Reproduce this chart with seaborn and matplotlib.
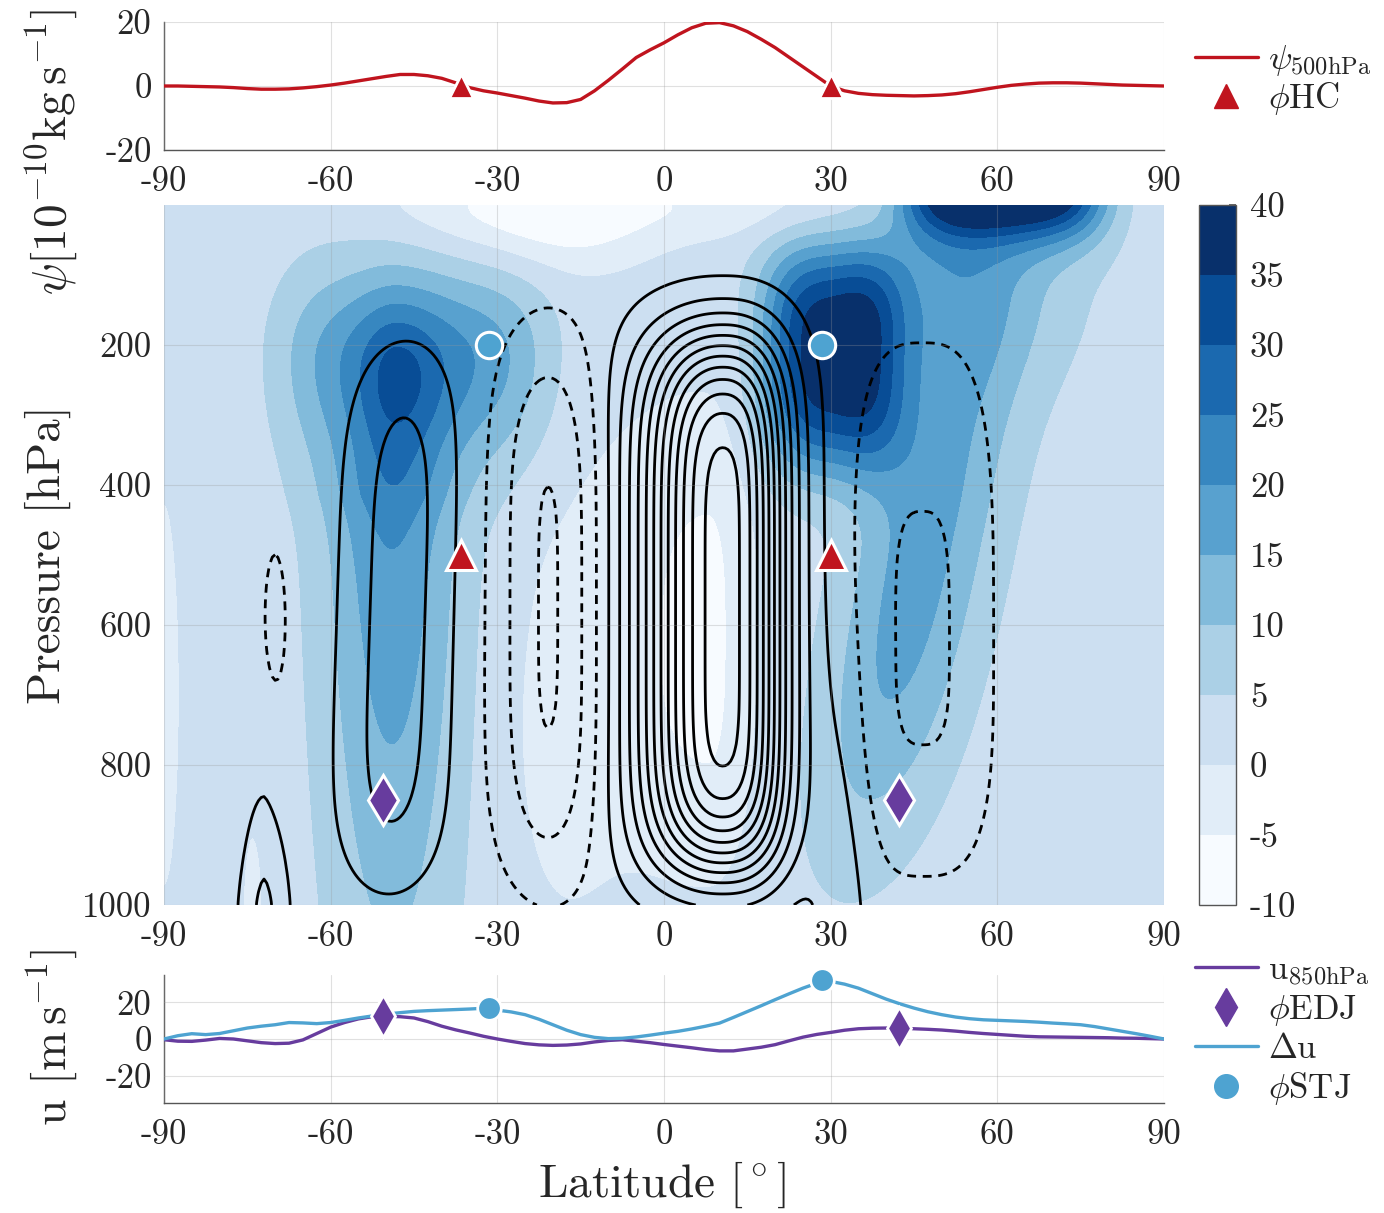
import numpy as np
import pandas as pd
import matplotlib
matplotlib.use("Agg")
import matplotlib.pyplot as plt
from matplotlib.colors import ListedColormap, BoundaryNorm
from matplotlib.lines import Line2D
import seaborn as sns

# ---------------------------------------------------------------- line data
lat_line = [-90 + 2.5 * i for i in range(73)]

psi_500 = [0, 0, -0.1, -0.2, -0.3, -0.5, -0.8, -1.0, -1.0, -0.9, -0.6, -0.2,
           0.3, 0.9, 1.6, 2.3, 3.0, 3.6, 3.6, 3.2, 2.4, 1.0, -0.5, -1.5,
           -2.2, -3.0, -3.8, -4.7, -5.3, -5.2, -4.2, -1.5, 1.8, 5.3, 8.9, 11.3,
           13.5, 16.0, 18.2, 19.6, 19.8, 18.8, 17.0, 14.6, 12.0, 9.0, 6.0, 3.0,
           0.0, -1.5, -2.3, -2.7, -2.9, -3.0, -3.1, -3.0, -2.8, -2.4, -1.8, -1.1,
           -0.4, 0.2, 0.6, 0.9, 1.0, 1.0, 0.9, 0.7, 0.5, 0.3, 0.2, 0.1, 0]

u_850 = [-0.4, -1.2, -1.3, -0.6, 0.3, 0.0, -1.0, -2.0, -2.5, -2.3, -0.5, 3.0,
         6.5, 9.0, 11.0, 12.2, 12.4, 12.2, 11.5, 9.5, 7.0, 5.0, 3.3, 1.5,
         0.0, -1.3, -2.5, -3.2, -3.5, -3.3, -2.7, -1.6, -0.8, -0.4, -1.2, -2.0,
         -3.0, -3.9, -4.8, -5.8, -6.5, -6.5, -5.5, -4.5, -3.1, -1.0, 1.0, 2.5,
         3.6, 4.8, 5.6, 5.9, 6.0, 6.0, 5.6, 5.3, 4.9, 4.3, 3.6, 3.0,
         2.5, 2.0, 1.5, 1.2, 1.1, 1.0, 0.9, 0.8, 0.7, 0.5, 0.4, 0.2, 0]

delta_u = [0, 1.8, 2.9, 2.4, 3.0, 4.5, 6.0, 7.0, 7.8, 9.0, 8.8, 8.4,
           9.0, 10.2, 11.5, 12.6, 13.6, 14.4, 15.1, 15.5, 15.8, 16.1, 16.4, 16.8,
           15.8, 14.8, 13.3, 10.8, 7.8, 4.8, 2.4, 0.9, 0.2, 0.4, 1.1, 2.1,
           3.2, 4.2, 5.5, 7.0, 8.7, 11.8, 15.0, 18.2, 21.5, 24.7, 27.8, 30.5,
           31.5, 30.0, 27.8, 24.8, 21.8, 19.2, 16.9, 14.9, 13.3, 12.0, 11.1, 10.5,
           10.2, 9.9, 9.6, 9.2, 8.7, 8.3, 7.8, 6.8, 5.5, 4.2, 2.9, 1.5, 0]

# jet / cell-edge latitudes
hc_lat = [-36.5, 30.0]
hc_val = [0.0, 0.0]
hc_p = [500, 500]
edj_lat = [-50.5, 42.3]
edj_val = [12.4, 6.0]
edj_p = [850, 850]
stj_lat = [-31.5, 28.5]
stj_val = [16.9, 32.0]
stj_p = [200, 200]

# ------------------------------------------- zonal-mean field features
# streamfunction cells (10^10 kg/s): centre, half-widths, shape exponents, peak
psi_lat0 = [10.5, -20.5, -48.0, 46.5, -70.0, -72.0, 32.0]
psi_p0 = [580, 575, 600, 625, 600, 1000, 1000]
psi_w_s = [14.0, 9.7, 9.3, 12.2, 3.5, 4.0, 5.0]
psi_w_n = [11.5, 9.7, 9.3, 12.2, 3.5, 4.0, 5.0]
psi_w_up = [395, 380, 380, 410, 180, 140, 300]
psi_w_dn = [375, 380, 360, 320, 180, 140, 300]
psi_n_s = [2.1, 2.0, 2.0, 3.0, 2.0, 1.6, 2.0]
psi_n_n = [2.4, 2.0, 2.0, 3.0, 2.0, 1.6, 2.0]
psi_n_up = [6.0, 4.2, 5.0, 3.5, 2.0, 1.3, 2.0]
psi_n_dn = [6.0, 4.2, 5.0, 3.5, 2.0, 1.3, 2.0]
psi_amp = [24.0, -5.3, 4.0, -3.2, -1.4, 3.6, 2.0]
psi_tilt = [0, 0, -0.4, 0, 0, 0, 0]

# zonal wind features (m/s) on a weak westerly background
u_background = 2.5
u_lat0 = [-48, -45, -49, 31, 47, 61, 50, 8, -5, -18, -18, -90, -74]
u_p0 = [250, 220, 420, 210, 450, -20, 110, 620, 0, 30, 750, 700, 1000]
u_w_s = [7, 23, 12, 13, 12, 18, 14, 20, 45, 22, 10, 4, 2.5]
u_w_n = [9, 23, 12, 12, 13, 18, 22, 8, 35, 16, 10, 4, 2.5]
u_w_up = [130, 130, 120, 150, 400, 70, 90, 330, 50, 70, 300, 400, 150]
u_w_dn = [120, 150, 700, 170, 450, 70, 150, 330, 50, 70, 300, 400, 150]
u_n_s = [2, 4, 2, 3, 2, 4, 2, 2, 4, 2, 2, 2, 2]
u_n_n = [2, 4, 2, 3, 2, 4, 2, 2, 4, 2, 2, 2, 2]
u_n_up = [2, 2, 1.7, 3, 2, 2, 2, 3, 2, 2, 2, 2, 2]
u_n_dn = [2, 2, 1.7, 3, 3, 2, 2, 3, 2, 2, 2, 2, 2]
u_amp = [11, 17, 17, 36, 15, 42, 9, -8.8, -6, -8, -4, -4, -4]
u_tilt = [0, 0, 0, 0, -2.5, 0, 0, 0, 0, 0, 0, 0, 0]

u_levels = list(range(-10, 41, 5))
psi_levels = [-5, -3, -1] + list(range(1, 24, 2))
lat_ticks = [-90, -60, -30, 0, 30, 60, 90]
p_ticks = [200, 400, 600, 800, 1000]

# ---------------------------------------------------------------- style
RED = "#c0141e"
PURPLE = "#673c9e"
LBLUE = "#4ea3d1"
AXC = "#262626"

sns.set_theme(style="white")
plt.rcParams.update({
    "font.family": ["cmr10", "DejaVu Serif"],
    "mathtext.fontset": "cm",
    "axes.unicode_minus": False,
    "axes.formatter.use_mathtext": True,
    "text.color": AXC,
    "axes.edgecolor": AXC,
    "xtick.color": AXC,
    "ytick.color": AXC,
})
FS_TICK = 25
FS_LAB = 34


def feature_field(lat, p, table, base=0.0):
    LAT, P = np.meshgrid(lat, p)
    out = np.full(LAT.shape, base, dtype=float)
    for r in table.itertuples():
        c = r.lat0 + r.tilt * (P - r.p0) / 100.0
        dx = LAT - c
        dp = P - r.p0
        wl = np.where(dx < 0, r.w_s, r.w_n)
        nl = np.where(dx < 0, r.n_s, r.n_n)
        wp = np.where(dp < 0, r.w_up, r.w_dn)
        npw = np.where(dp < 0, r.n_up, r.n_dn)
        out += r.amp * np.exp(-np.abs(dx / wl) ** nl - np.abs(dp / wp) ** npw)
    return out


psi_tab = pd.DataFrame(dict(lat0=psi_lat0, p0=psi_p0, w_s=psi_w_s, w_n=psi_w_n,
                            w_up=psi_w_up, w_dn=psi_w_dn, n_s=psi_n_s,
                            n_n=psi_n_n, n_up=psi_n_up, n_dn=psi_n_dn,
                            amp=psi_amp, tilt=psi_tilt))
u_tab = pd.DataFrame(dict(lat0=u_lat0, p0=u_p0, w_s=u_w_s, w_n=u_w_n,
                          w_up=u_w_up, w_dn=u_w_dn, n_s=u_n_s, n_n=u_n_n,
                          n_up=u_n_up, n_dn=u_n_dn, amp=u_amp, tilt=u_tilt))

grid_lat = np.linspace(-90, 90, 361)
grid_p = np.linspace(0, 1000, 201)
psi_field = feature_field(grid_lat, grid_p, psi_tab)
u_field = np.clip(feature_field(grid_lat, grid_p, u_tab, u_background), -9.99, 39.99)

top_df = pd.DataFrame({"lat": lat_line, "psi": psi_500})
bot_df = pd.DataFrame({"lat": lat_line * 2,
                       "val": u_850 + delta_u,
                       "series": ["u850"] * len(u_850) + ["du"] * len(delta_u)})

W, H = 1384, 1213
fig = plt.figure(figsize=(W / 100, H / 100), dpi=100)


def rect(x0, y0, x1, y1):
    return [x0 / W, 1 - y1 / H, (x1 - x0) / W, (y1 - y0) / H]


ax_top = fig.add_axes(rect(164, 22, 1164, 150))
ax_main = fig.add_axes(rect(164, 205, 1164, 905))
ax_cb = fig.add_axes(rect(1199, 205, 1236, 905))
ax_bot = fig.add_axes(rect(164, 975, 1164, 1103))


def style_axis(ax):
    for s in ["top", "right"]:
        ax.spines[s].set_visible(False)
    for s in ["left", "bottom"]:
        ax.spines[s].set_color("#555555")
        ax.spines[s].set_linewidth(1.0)
    ax.tick_params(direction="in", length=7, width=1.0, labelsize=FS_TICK,
                   colors="#555555", labelcolor=AXC)
    ax.tick_params(axis="x", pad=12)
    ax.tick_params(axis="y", pad=9)
    ax.set_xlim(-90, 90)
    ax.set_xticks(lat_ticks)
    ax.set_xticklabels([str(t) for t in lat_ticks])
    ax.grid(True, color="#9a9a9a", alpha=0.3, lw=0.8)
    ax.set_axisbelow(False)
    ax.set_xlabel("")
    ax.set_ylabel("")


# ---------------------------------------------------------------- top panel
sns.lineplot(data=top_df, x="lat", y="psi", ax=ax_top, color=RED, lw=2.4,
             legend=False, zorder=3)
ax_top.plot(hc_lat, hc_val, ls="none", marker="^", ms=17, mfc=RED,
            mec="white", mew=2, zorder=4, clip_on=False)
ax_top.set_ylim(-20, 20)
ax_top.set_yticks([-20, 0, 20])
ax_top.set_yticklabels(["-20", "0", "20"])
style_axis(ax_top)

# ---------------------------------------------------------------- main panel
cmap = ListedColormap(plt.get_cmap("Blues")(np.linspace(0, 1, len(u_levels) - 1)))
norm = BoundaryNorm(u_levels, cmap.N)
cf = ax_main.contourf(grid_lat, grid_p, u_field, levels=u_levels, cmap=cmap,
                      norm=norm, zorder=0)
ax_main.contour(grid_lat, grid_p, psi_field, levels=psi_levels, colors="black",
                linewidths=2.0, negative_linestyles=(0, (3.2, 2.4)), zorder=2)
ax_main.plot(stj_lat, stj_p, ls="none", marker="o", ms=19, mfc=LBLUE,
             mec="white", mew=2.2, zorder=5)
ax_main.plot(hc_lat, hc_p, ls="none", marker="^", ms=21, mfc=RED,
             mec="white", mew=2.2, zorder=5)
ax_main.plot(edj_lat, edj_p, ls="none", marker="d", ms=25, mfc=PURPLE,
             mec="white", mew=2.2, zorder=5)
ax_main.set_ylim(1000, 0)
ax_main.set_yticks(p_ticks)
ax_main.set_yticklabels([str(t) for t in p_ticks])
style_axis(ax_main)
for s in ["left", "bottom"]:
    ax_main.spines[s].set_visible(False)

# colour bar
cb = fig.colorbar(cf, cax=ax_cb, ticks=u_levels)
cb.outline.set_edgecolor("#555555")
cb.outline.set_linewidth(1.0)
ax_cb.tick_params(direction="in", length=5, labelsize=FS_TICK, pad=10,
                  colors="#555555", labelcolor=AXC)
ax_cb.set_yticklabels([str(t) for t in u_levels])

# ---------------------------------------------------------------- bottom panel
sns.lineplot(data=bot_df, x="lat", y="val", hue="series", ax=ax_bot,
             palette={"u850": PURPLE, "du": LBLUE}, lw=2.4, legend=False,
             zorder=3)
ax_bot.plot(edj_lat, edj_val, ls="none", marker="d", ms=21, mfc=PURPLE,
            mec="white", mew=2, zorder=4)
ax_bot.plot(stj_lat, stj_val, ls="none", marker="o", ms=17, mfc=LBLUE,
            mec="white", mew=2, zorder=4, clip_on=False)
ax_bot.set_ylim(-35, 35)
ax_bot.set_yticks([-20, 0, 20])
ax_bot.set_yticklabels(["-20", "0", "20"])
style_axis(ax_bot)

# ---------------------------------------------------------------- legends
top_handles = [Line2D([], [], color=RED, lw=2.4),
               Line2D([], [], ls="none", marker="^", ms=17, mfc=RED, mec=RED)]
fig.legend(top_handles, [r"$\psi_{\rm 500hPa}$", r"$\phi\mathrm{HC}$"],
           loc="center left", bbox_to_anchor=(1195 / W, 1 - 80 / H),
           frameon=False, fontsize=FS_TICK, handlelength=1.8,
           handletextpad=0.3, labelspacing=0.05, borderpad=0, borderaxespad=0)
bot_handles = [Line2D([], [], color=PURPLE, lw=2.4),
               Line2D([], [], ls="none", marker="d", ms=19, mfc=PURPLE, mec=PURPLE),
               Line2D([], [], color=LBLUE, lw=2.4),
               Line2D([], [], ls="none", marker="o", ms=17, mfc=LBLUE, mec=LBLUE)]
fig.legend(bot_handles, [r"$\mathrm{u}_{\rm 850hPa}$", r"$\phi\mathrm{EDJ}$",
                         r"$\Delta\mathrm{u}$", r"$\phi\mathrm{STJ}$"],
           loc="center left", bbox_to_anchor=(1195 / W, 1 - 1031 / H),
           frameon=False, fontsize=FS_TICK, handlelength=1.8,
           handletextpad=0.3, labelspacing=0.15, borderpad=0, borderaxespad=0)

# ---------------------------------------------------------------- axis titles
fig.text(52 / W, 1 - 152 / H, r"$\psi[10^{-10}\mathrm{kg\,s}^{-1}]$",
         rotation=90, ha="center", va="center", fontsize=FS_LAB)
fig.text(48 / W, 1 - 555 / H, "Pressure [hPa]", rotation=90, ha="center",
         va="center", fontsize=FS_LAB)
fig.text(52 / W, 1 - 1038 / H, r"u $[\mathrm{m\,s}^{-1}]$", rotation=90,
         ha="center", va="center", fontsize=FS_LAB)
fig.text(662 / W, 1 - 1185 / H, r"Latitude $[^\circ]$", ha="center",
         va="center", fontsize=FS_LAB)

fig.savefig("out.png", dpi=100, facecolor="white")
